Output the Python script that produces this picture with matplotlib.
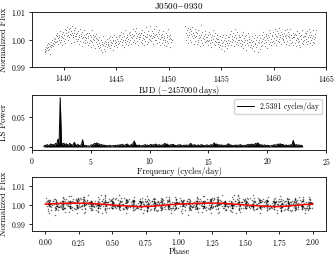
import numpy as np
import matplotlib
matplotlib.use("Agg")
import matplotlib.pyplot as plt

plt.rcParams['font.family'] = 'serif'
plt.rcParams['font.serif'] = ['cmr10']
plt.rcParams['mathtext.fontset'] = 'cm'
plt.rcParams['axes.formatter.use_mathtext'] = True
plt.rcParams['axes.unicode_minus'] = False

# light curve, flux offsets in units of 0.15 ppt, two halves of the sector
flux_unit = 1.5e-4
seg1_start, seg1_end = 1438.2, 1450.3
seg2_start, seg2_end = 1451.6, 1464.0
seg1_flux = [
    -28,-22,-30,-18,-25,-12,-20,-26,-8,-17,-22,-10,-15,-35,-5,-14,-19,-2,-12,-9,-16,-4,-11,3,-7,
    2,-6,10,-3,8,15,-10,4,12,-1,6,20,-5,9,0,14,-12,7,3,18,-4,11,25,1,-8,
    15,22,8,30,12,-2,18,25,5,14,28,10,-8,20,16,33,6,12,24,-5,17,9,27,13,2,
    8,-4,15,20,2,-10,12,6,25,-3,9,14,-15,4,18,7,-6,11,22,0,5,-9,13,3,16,
    -5,8,-12,3,15,-8,0,10,-18,5,-3,22,-7,2,12,-14,6,-1,9,-20,4,14,-6,1,-10,
    -15,-2,-20,-8,5,-18,-12,-25,0,-10,-30,-6,-14,8,-22,-9,-16,-3,-28,-11,-5,-19,2,-13,-7,
    -10,3,-15,-2,8,-20,-6,-12,5,-8,-25,0,-4,12,-16,-9,-1,-14,6,-7,-18,2,-11,-3,10,
    5,-8,12,-3,2,18,-12,7,-5,0,15,-18,9,-2,22,-7,4,-10,11,-4,6,-14,1,16,-6,
    10,-2,18,6,-10,14,3,25,-5,8,12,0,20,-8,15,4,28,-3,9,13,-12,7,17,1,11,
    6,-5,15,0,22,-8,10,4,-12,18,2,9,-3,30,5,-10,13,7,-6,20,1,12,-2,8,34,
    12,-4,20,3,9,-10,16,6,25,-2,11,33,0,14,-8,8,19,4,-6,13,22,2,-12,10,7,
    5,-8,14,-2,20,3,-12,9,0,-5,16,-15,6,11,-3,25,-9,2,8,-18,4,12,-6,1,-1,
]
seg2_flux = [
    32,15,-2,22,10,28,5,-8,18,12,25,0,14,-5,20,8,30,3,16,-10,11,26,6,-3,19,
    8,-10,15,0,22,-5,4,12,-15,6,36,-2,10,-8,18,3,-12,9,1,14,-6,20,-3,7,-1,
    5,-12,10,-4,18,0,-8,14,-2,6,-18,12,-6,2,22,-10,8,-3,15,-14,4,-7,11,1,-5,
    -10,2,-18,-5,8,-12,-2,-22,5,-8,-15,10,-6,-28,0,-11,4,-16,-3,12,-9,-20,-1,6,-13,
    5,-8,14,-3,20,-12,2,9,-6,16,-1,-15,7,12,-4,25,-10,3,-7,18,0,-13,10,-2,6,
    -8,5,-15,0,12,-10,-4,18,-20,-6,3,-12,8,-2,-25,10,-9,-1,15,-14,2,-7,6,-18,-5,
    -12,0,-20,-6,8,-15,-3,-28,4,-10,-8,12,-18,-2,6,-14,-30,-5,10,-9,-1,-22,3,-7,-16,
    -4,10,-12,2,18,-8,5,-15,0,14,-6,8,-20,3,12,-2,22,-10,6,-5,16,-13,1,9,-7,
    10,-3,18,4,-8,14,25,0,8,-12,20,6,-4,15,2,28,-6,11,7,-10,19,3,13,-2,9,
    2,15,-6,22,8,-10,12,4,26,-3,9,18,-14,6,14,0,25,-8,10,3,-5,16,7,-12,11,
    6,-9,14,-2,10,-15,4,20,-6,1,-12,15,-4,8,-18,12,2,-8,22,-3,5,-11,9,-1,16,
    8,-6,15,2,-10,20,5,-3,12,26,-8,6,18,-2,10,-14,4,24,-5,9,1,-9,14,7,22,
]

# periodogram, 1 to 24 cycles/day in 0.1 steps
freq_start, freq_step = 1.0, 0.1
ls_power = [
    0.0010, 0.0030, 0.0025, 0.0040, 0.0020, 0.0035, 0.0050, 0.0030, 0.0045, 0.0020,
    0.0060, 0.0040, 0.0130, 0.0050, 0.0820, 0.0070, 0.0040, 0.0065, 0.0030, 0.0055,
    0.0040, 0.0025, 0.0060, 0.0045, 0.0030, 0.0040, 0.0080, 0.0035, 0.0025, 0.0045,
    0.0020, 0.0030, 0.0035, 0.0120, 0.0030, 0.0020, 0.0025, 0.0015, 0.0020, 0.0010,
    0.0030, 0.0040, 0.0025, 0.0060, 0.0050, 0.0070, 0.0045, 0.0055, 0.0030, 0.0040,
    0.0035, 0.0025, 0.0030, 0.0020, 0.0025, 0.0015, 0.0030, 0.0020, 0.0015, 0.0025,
    0.0020, 0.0030, 0.0015, 0.0035, 0.0025, 0.0040, 0.0030, 0.0045, 0.0020, 0.0035,
    0.0040, 0.0050, 0.0030, 0.0020, 0.0035, 0.0045, 0.0060, 0.0100, 0.0040, 0.0030,
    0.0020, 0.0035, 0.0015, 0.0025, 0.0020, 0.0030, 0.0040, 0.0025, 0.0035, 0.0020,
    0.0030, 0.0045, 0.0025, 0.0040, 0.0030, 0.0050, 0.0035, 0.0025, 0.0040, 0.0030,
    0.0025, 0.0035, 0.0045, 0.0060, 0.0040, 0.0050, 0.0030, 0.0025, 0.0040, 0.0035,
    0.0045, 0.0030, 0.0025, 0.0020, 0.0035, 0.0030, 0.0040, 0.0025, 0.0020, 0.0030,
    0.0025, 0.0035, 0.0020, 0.0030, 0.0045, 0.0060, 0.0035, 0.0025, 0.0040, 0.0030,
    0.0020, 0.0035, 0.0025, 0.0030, 0.0040, 0.0030, 0.0025, 0.0020, 0.0030, 0.0035,
    0.0020, 0.0025, 0.0040, 0.0030, 0.0045, 0.0070, 0.0035, 0.0050, 0.0030, 0.0040,
    0.0025, 0.0035, 0.0030, 0.0020, 0.0030, 0.0025, 0.0040, 0.0055, 0.0030, 0.0035,
    0.0025, 0.0020, 0.0030, 0.0025, 0.0035, 0.0020, 0.0030, 0.0040, 0.0030, 0.0025,
    0.0020, 0.0030, 0.0025, 0.0040, 0.0035, 0.0045, 0.0030, 0.0050, 0.0035, 0.0040,
    0.0060, 0.0050, 0.0070, 0.0045, 0.0030, 0.0040, 0.0025, 0.0030, 0.0035, 0.0020,
    0.0030, 0.0025, 0.0020, 0.0015, 0.0030, 0.0025, 0.0040, 0.0030, 0.0035, 0.0050,
    0.0040, 0.0055, 0.0035, 0.0045, 0.0030, 0.0025, 0.0035, 0.0020, 0.0030, 0.0025,
    0.0040, 0.0030, 0.0110, 0.0045, 0.0030, 0.0040, 0.0025, 0.0035, 0.0020, 0.0030,
    0.0015,
]
best_freq = 2.5391

# binned phase curve (phase 0..1 in 0.04 steps)
bin_flux = [
    1.0003, 1.0005, 1.0006, 1.0007, 1.0008, 1.0008, 1.0009, 1.0008, 1.0008, 1.0006,
    1.0004, 1.0002, 1.0000, 0.9998, 0.9996, 0.9994, 0.9992, 0.9991, 0.9990, 0.9991,
    0.9992, 0.9995, 0.9997, 1.0000, 1.0002, 1.0003,
]

t1 = np.linspace(seg1_start, seg1_end, len(seg1_flux))
t2 = np.linspace(seg2_start, seg2_end, len(seg2_flux))
time = np.concatenate([t1, t2])
flux = 1.0 + np.array(seg1_flux + seg2_flux) * flux_unit

freq = freq_start + freq_step * np.arange(len(ls_power))

phase = (time * best_freq) % 1.0
phase2 = np.concatenate([phase, phase + 1])
flux2 = np.concatenate([flux, flux])
bin_phase = np.linspace(0, 1, len(bin_flux))
bphase = np.concatenate([bin_phase, bin_phase[1:] + 1])
bflux = np.concatenate([bin_flux, bin_flux[1:]])

fig = plt.figure(figsize=(3.35, 2.56), dpi=100)
ax1 = fig.add_axes([0.0955, 0.738, 0.878, 0.215])
ax2 = fig.add_axes([0.0955, 0.414, 0.878, 0.215])
ax3 = fig.add_axes([0.0955, 0.097, 0.878, 0.21])

ax1.plot(time, flux, '.', ms=1.6, color='0.45', mew=0)
ax1.set_xlim(1437.0, 1465.0)
ax1.set_ylim(0.99, 1.01)
ax1.set_yticks([0.99, 1.00, 1.01])
ax1.set_xlabel(r'BJD ($-$2457000 days)', fontsize=6, labelpad=0.5)
ax1.set_ylabel('Normalized Flux', fontsize=6.3, labelpad=2)
ax1.set_title(r'J0500$-$0930', fontsize=6.5, pad=2)

ax2.fill_between(freq, 0, ls_power, color='k', lw=0)
ax2.plot(freq, ls_power, color='k', lw=0.7, label='%.4f cycles/day' % best_freq)
ax2.set_xlim(0, 25)
ax2.set_ylim(-0.005, 0.0865)
ax2.set_yticks([0.00, 0.05])
ax2.set_xlabel('Frequency (cycles/day)', fontsize=6, labelpad=0.5)
ax2.set_ylabel('LS Power', fontsize=6.3, labelpad=2)
ax2.legend(loc='upper right', fontsize=5.5, handlelength=2.2, borderpad=0.4)

ax3.plot(phase2, flux2, '.', ms=2.2, color='k', alpha=0.55, mew=0)
ax3.plot(bphase, bflux, color='red', lw=1.1)
ax3.set_xlim(-0.1, 2.1)
ax3.set_ylim(0.986, 1.0145)
ax3.set_yticks([0.99, 1.00, 1.01])
ax3.set_xlabel('Phase', fontsize=6, labelpad=0)
ax3.set_ylabel('Normalized Flux', fontsize=6.3, labelpad=2)

for ax in (ax1, ax2, ax3):
    ax.tick_params(labelsize=5.5, length=2.5, width=0.6, pad=1.5)
    for s in ax.spines.values():
        s.set_linewidth(0.6)

fig.savefig('out.png', dpi=100)
